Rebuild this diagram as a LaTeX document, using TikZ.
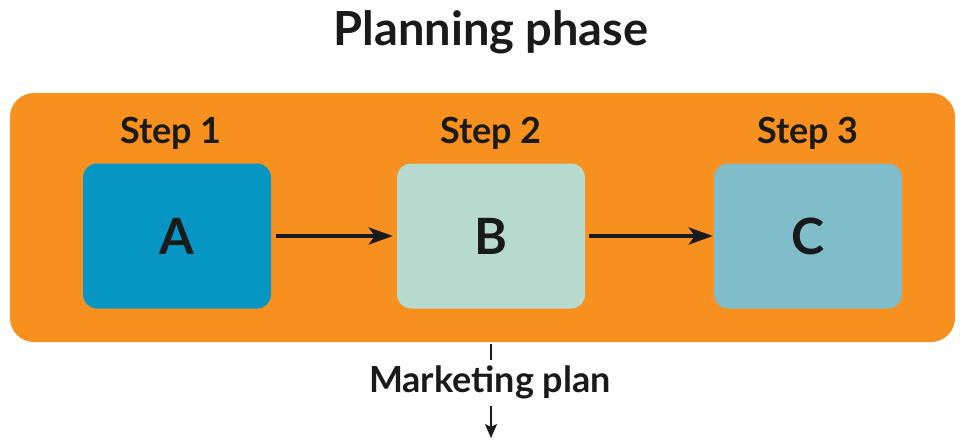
\documentclass[tikz,border=0pt]{standalone}
\usepackage{fontspec}
\setmainfont{Lato}
\usetikzlibrary{arrows.meta}
\definecolor{orangebg}{HTML}{F7901E}
\definecolor{colA}{HTML}{0596C3}
\definecolor{colB}{HTML}{B7DACF}
\definecolor{colC}{HTML}{80BDCA}
\definecolor{txt}{HTML}{1A1A1A}
\begin{document}
\begin{tikzpicture}[x=1pt,y=-1pt,
  stepbox/.style={rounded corners=14pt, minimum width=188pt, minimum height=145pt, inner sep=0pt, text=txt, font=\fontsize{50}{54}\selectfont\bfseries},
  steplabel/.style={text=txt, font=\fontsize{36}{40}\selectfont\bfseries, inner sep=0pt},
  flow/.style={line width=3.6pt, draw=txt, -{Stealth[length=24pt,width=17pt,inset=6pt]}},
  outflow/.style={line width=1.8pt, draw=txt}]
\useasboundingbox (0,0) rectangle (960,439);
\fill[white] (0,0) rectangle (960,439);
\node[text=txt, font=\fontsize{47}{50}\selectfont\bfseries, inner sep=0pt] (title) at (491,32) {Planning phase};
\fill[orangebg, rounded corners=24pt] (10,93) rectangle (955,342);
\coordinate (phasebottom) at (491,344);
\node[stepbox, fill=colA] (A) at (177,236) {A};
\node[stepbox, fill=colB] (B) at (491,236) {B};
\node[stepbox, fill=colC] (C) at (808,236) {C};
\node[steplabel] (s1) at (171,133) {Step 1};
\node[steplabel] (s2) at (491,133) {Step 2};
\node[steplabel] (s3) at (808,133) {Step 3};
\draw[flow] ([xshift=5pt]A.east) -- ([xshift=-4pt]B.west);
\draw[flow] ([xshift=4pt]B.east) -- ([xshift=-1pt]C.west);
\node[text=txt, font=\fontsize{36}{40}\selectfont\bfseries, inner sep=0pt] (mp) at (490,382) {Marketing plan};
\coordinate (mpend) at (491,438);
\draw[outflow] (phasebottom) -- (491,360);
\draw[outflow, -{Stealth[length=14pt,width=12pt,inset=3pt]}] (491,406) -- (mpend);
\end{tikzpicture}
\end{document}
